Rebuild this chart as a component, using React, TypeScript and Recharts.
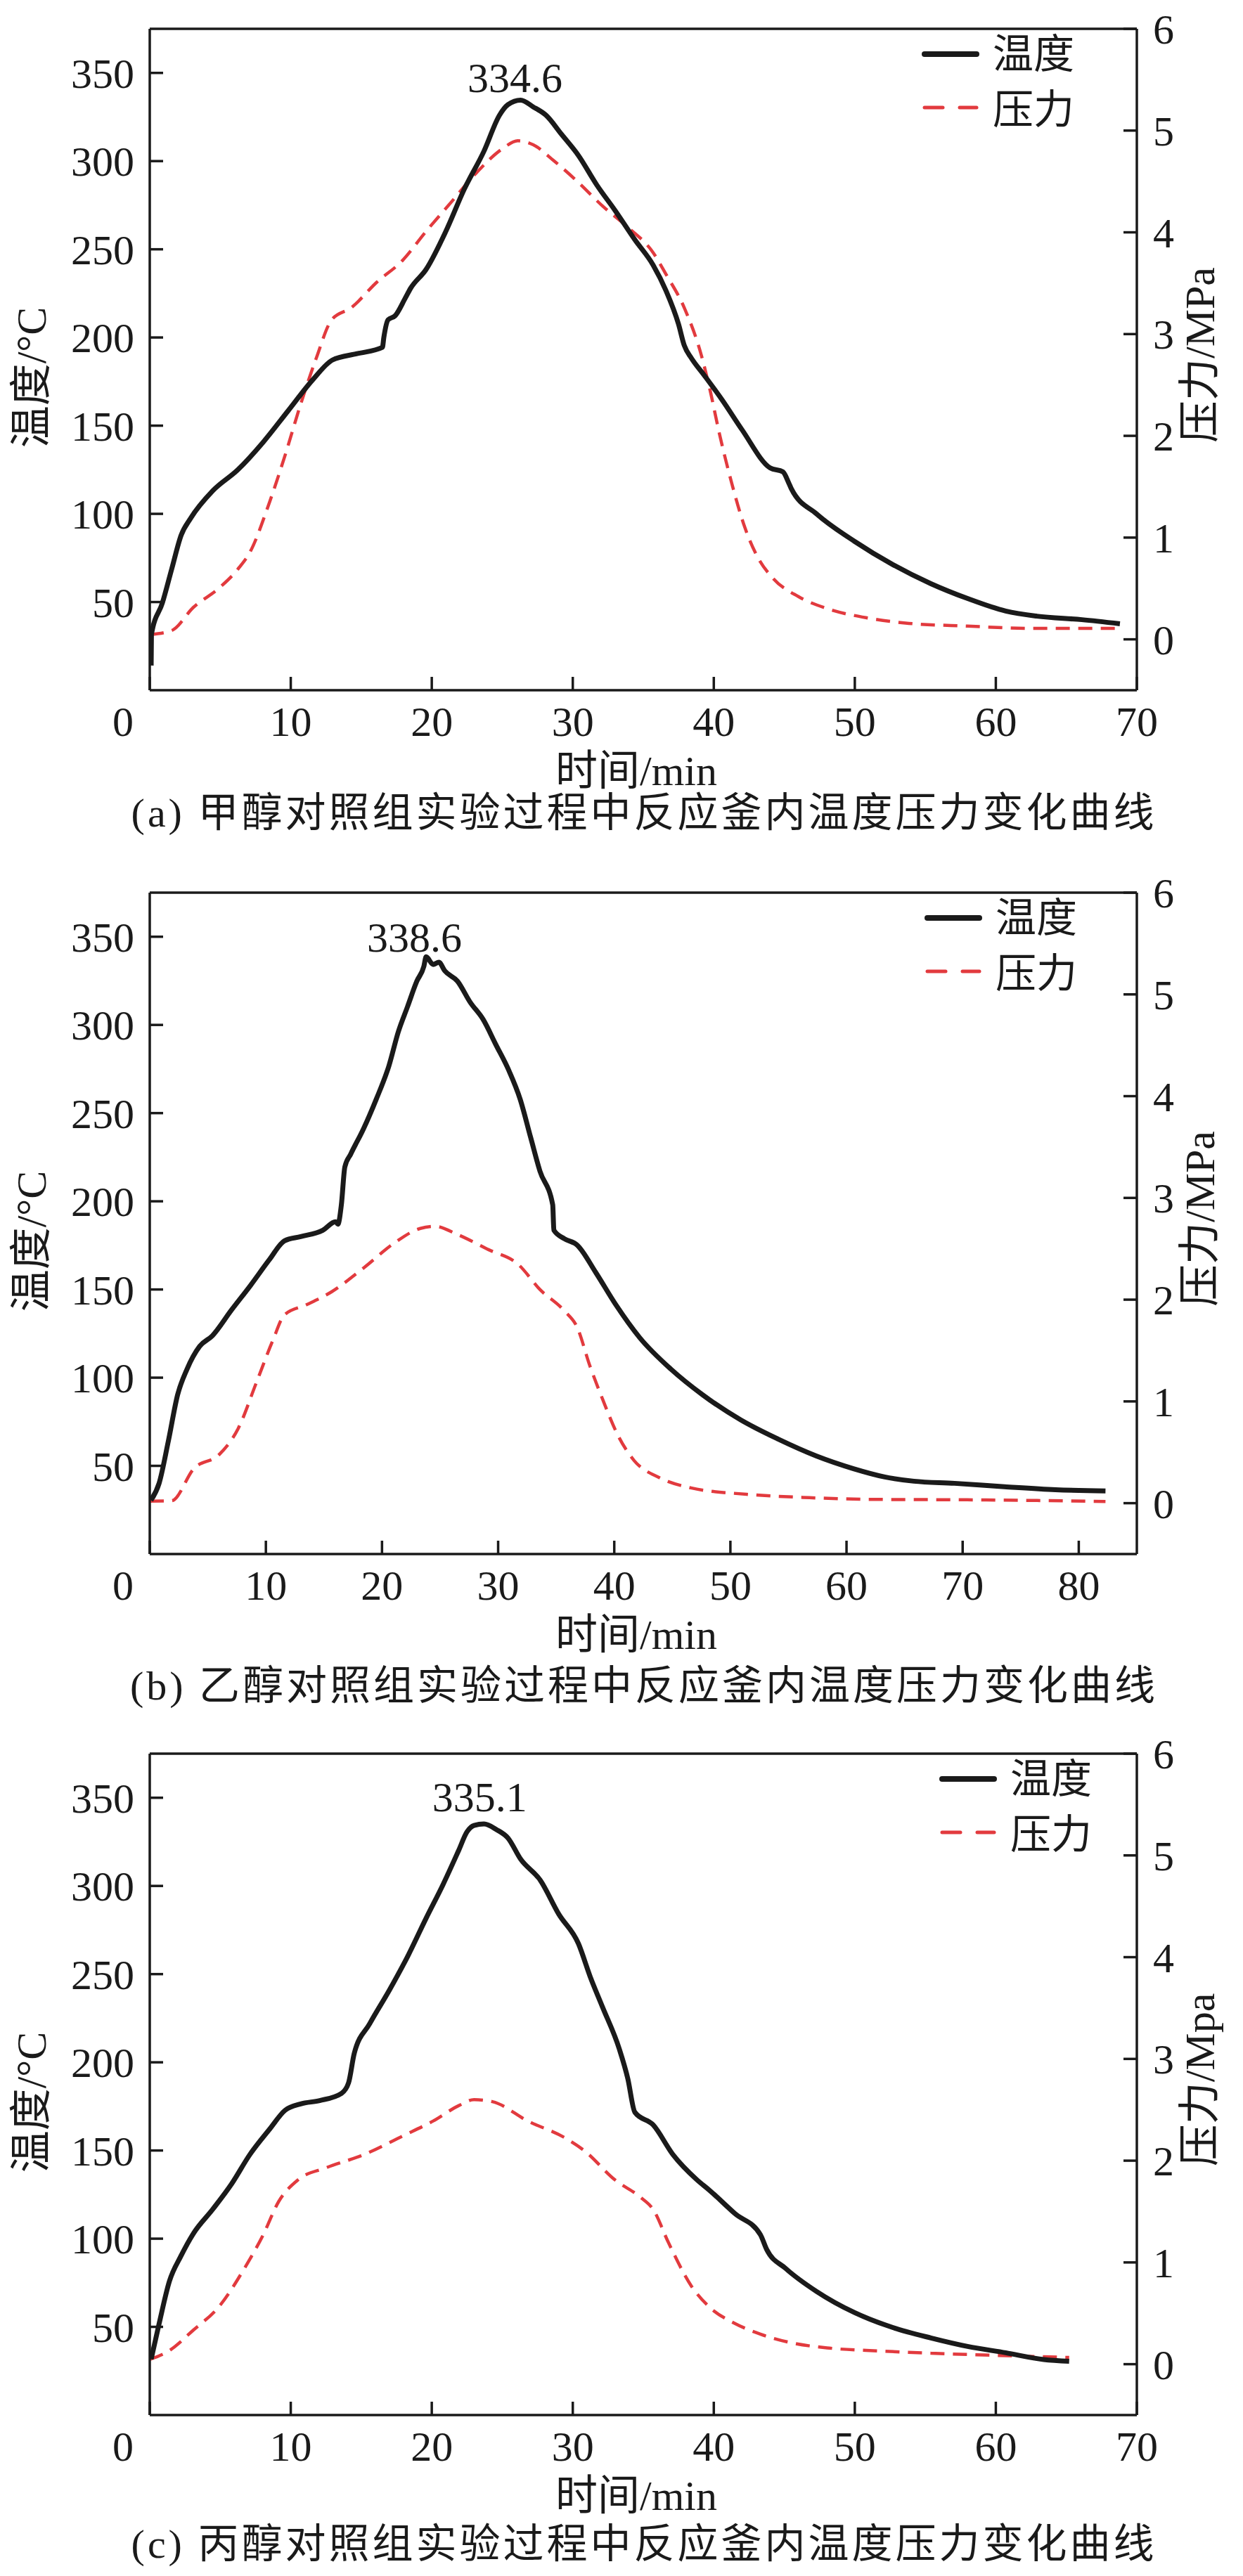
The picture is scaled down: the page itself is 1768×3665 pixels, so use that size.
import React from 'react';
import { LineChart, Line, XAxis, YAxis, ReferenceLine, ReferenceDot } from 'recharts';

// ---------------- data: (a) methanol ----------------
const aTempTime = [0.1, 0.12, 0.9, 1.56, 2.23, 2.9, 4.46, 6.25, 8.04, 9.82, 11.6, 12.95, 14.7, 16.5, 16.6, 16.9, 17.4, 18.1, 18.5, 19.6, 21, 22.3, 23.7, 24.8, 25.4, 26.3, 27.2, 28.1, 29.2, 30.4, 31.7, 33, 34.4, 35.7, 36.6, 37.5, 37.9, 38.4, 39.3, 40.6, 42, 44, 44.9, 45.3, 45.5, 47.3, 50, 52.7, 55.4, 58, 60.7, 62.9, 66.1, 68.8];
const aTempValue = [14, 31.7, 49.6, 68.8, 88, 97.5, 113, 125, 140.6, 158.5, 176.4, 187.2, 190.8, 194.4, 200, 210, 212.3, 222, 227.9, 238.6, 260.2, 284, 305.6, 326, 332, 334.6, 330.7, 326, 315.2, 303.2, 286.5, 272, 255.4, 241, 226.7, 207.5, 195.6, 188.4, 178.8, 164.5, 147.7, 126, 123.8, 117.8, 114.2, 99.9, 84.3, 71.2, 60.4, 52, 44.9, 42, 40, 37.7];
const aPressTime = [0, 1.56, 3.1, 4.9, 6.25, 7.1, 8.5, 9.6, 10.7, 11.8, 12.9, 14.3, 16.1, 17.9, 19.6, 21.4, 23.2, 25, 26.1, 27.2, 28.6, 30.4, 32.1, 33.9, 35.7, 36.6, 37.9, 39.1, 39.7, 40.4, 41.3, 42.2, 43.1, 44.2, 46, 48.2, 50.9, 53.6, 58, 62.5, 68.8];
const aPressValue = [0.046, 0.087, 0.315, 0.502, 0.69, 0.855, 1.35, 1.81, 2.31, 2.76, 3.14, 3.26, 3.51, 3.72, 4.01, 4.3, 4.59, 4.82, 4.9, 4.86, 4.71, 4.49, 4.26, 4.05, 3.8, 3.59, 3.26, 2.8, 2.47, 2.02, 1.52, 1.1, 0.81, 0.6, 0.42, 0.295, 0.21, 0.16, 0.13, 0.108, 0.108];

// ---------------- data: (b) ethanol ----------------
const bTempTime = [0.1, 0.8, 1.6, 2.4, 3.2, 4.3, 5.4, 7, 8.7, 10.3, 11.6, 13, 14.9, 16, 16.2, 16.5, 16.8, 17.3, 18.4, 19.5, 20.6, 21.4, 22.2, 23, 23.6, 23.8, 24.4, 24.9, 25.4, 26.5, 27.6, 28.7, 29.8, 30.9, 31.9, 32.8, 33.6, 34.7, 34.8, 35.7, 36.8, 38.4, 40.1, 42.2, 44.9, 47.6, 50.9, 54.1, 57.4, 60.6, 63.3, 65.8, 69.3, 73.6, 78, 82.3];
const bTempValue = [30.5, 40, 64, 90.3, 104.7, 117.8, 123.8, 138, 152.5, 166.9, 177.6, 180, 183.6, 188.4, 187, 198, 219.5, 226.7, 241, 257.8, 276.9, 296, 310.4, 324.8, 333.1, 338.6, 334.3, 335.5, 330.7, 324.8, 312.8, 303.2, 288.9, 274.5, 257.8, 236.2, 217.1, 198, 183.6, 178.8, 175.2, 159.7, 141.7, 122.6, 104.7, 90.3, 76, 65.2, 55.6, 48.4, 43.7, 41.3, 40.1, 38.2, 36.5, 35.8];
const bPressTime = [0, 1.9, 3.8, 6, 7.6, 9.2, 10.6, 11.6, 13.5, 15.7, 18.4, 21.1, 23.3, 24.6, 26.5, 29.2, 31.7, 33.6, 35.7, 36.8, 37.9, 39, 40.3, 41.7, 43.9, 46.6, 51.4, 56.8, 62.3, 70.4, 82.3];
const bPressValue = [0.02, 0.025, 0.34, 0.48, 0.73, 1.19, 1.6, 1.85, 1.95, 2.08, 2.31, 2.56, 2.7, 2.72, 2.64, 2.49, 2.35, 2.1, 1.89, 1.73, 1.35, 1.02, 0.67, 0.42, 0.25, 0.15, 0.087, 0.054, 0.037, 0.033, 0.017];

// ---------------- data: (c) propanol ----------------
const cTempTime = [0.1, 0.67, 1.4, 2.2, 3.1, 4.46, 5.8, 7.1, 8.5, 9.6, 10.7, 12.05, 13.6, 14.1, 14.5, 15.6, 17, 18.3, 19.6, 20.8, 21.9, 22.5, 23, 23.7, 24.6, 25.4, 26.3, 27.7, 29, 30.4, 31.25, 32.1, 33.3, 33.9, 34.4, 35.7, 37.1, 38.8, 39.7, 41.5, 43.3, 43.75, 45.1, 47.3, 50, 52.7, 55.4, 58, 60.7, 63.4, 65.2];
const cTempValue = [31.7, 52, 76, 90, 103, 116.6, 131, 147.7, 162.1, 172.8, 176.4, 178.3, 182.4, 188.4, 205, 221.9, 241, 260.2, 281.7, 300.8, 320, 330.7, 334.3, 335.1, 331.9, 327.2, 315.2, 303.2, 284.1, 267.3, 248.2, 231.5, 207.5, 190.8, 171.7, 164.5, 147.7, 133.4, 127.4, 114.2, 102.3, 93.9, 83.1, 70, 58, 49.6, 43.7, 38.9, 35.3, 31.5, 30.5];
const cPressTime = [0, 1.34, 3.1, 4.9, 6.7, 8.04, 9.15, 10.5, 12.5, 15.2, 17.9, 20.1, 21.9, 23, 24.3, 26.8, 29.5, 30.8, 33, 34.8, 35.7, 36.8, 38.4, 39.7, 41.5, 43.3, 45.5, 48.2, 51.8, 55.4, 59.8, 65.2];
const cPressValue = [0.046, 0.129, 0.336, 0.564, 0.938, 1.27, 1.6, 1.81, 1.93, 2.06, 2.24, 2.39, 2.54, 2.6, 2.58, 2.39, 2.22, 2.1, 1.81, 1.64, 1.52, 1.19, 0.77, 0.56, 0.4, 0.295, 0.21, 0.158, 0.129, 0.108, 0.087, 0.066];

// ---------------- ticks, labels ----------------
const tempTicks = [50, 100, 150, 200, 250, 300, 350];
const pressTicks = [0, 1, 2, 3, 4, 5, 6];
const xTicks70 = [0, 10, 20, 30, 40, 50, 60, 70];
const xTicks80 = [0, 10, 20, 30, 40, 50, 60, 70, 80];
const peakTexts = ['334.6', '338.6', '335.1'];
const peakValues = [334.6, 338.6, 335.1];
const peakLabelTimes = [25.9, 22.8, 23.4];
const captions = [
  '(a) 甲醇对照组实验过程中反应釜内温度压力变化曲线',
  '(b) 乙醇对照组实验过程中反应釜内温度压力变化曲线',
  '(c) 丙醇对照组实验过程中反应釜内温度压力变化曲线',
];
const rightTitles = ['压力/MPa', '压力/MPa', '压力/Mpa'];
const legendNames = ['温度', '压力'];

// ---------------- styles ----------------
const NUM_FONT = '"Liberation Serif", "Times New Roman", serif';
const MIX_FONT = '"Liberation Serif", "Noto Sans CJK SC", serif';
const INK = '#1a1a1a';
const RED = '#e23a3e';
const AXIS_W = 3.5;

const XTick = (props: any) => {
  const { x, y, payload } = props;
  const dx = payload.value === 0 ? -38 : 0;
  return (
    <g>
      <line x1={x} y1={y} x2={x} y2={y - 19} stroke={INK} strokeWidth={AXIS_W} />
      <text x={x + dx} y={y + 65} textAnchor="middle" fontFamily={NUM_FONT} fontSize={60} fill={INK}>
        {payload.value}
      </text>
    </g>
  );
};

const LeftTick = (props: any) => {
  const { x, y, payload } = props;
  return (
    <g>
      <line x1={x} y1={y} x2={x + 19} y2={y} stroke={INK} strokeWidth={AXIS_W} />
      <text x={x - 22} y={y + 21} textAnchor="end" fontFamily={NUM_FONT} fontSize={60} fill={INK}>
        {payload.value}
      </text>
    </g>
  );
};

const RightTick = (props: any) => {
  const { x, y, payload } = props;
  return (
    <g>
      <line x1={x} y1={y} x2={x - 19} y2={y} stroke={INK} strokeWidth={AXIS_W} />
      <text x={x + 23} y={y + 21} textAnchor="start" fontFamily={NUM_FONT} fontSize={60} fill={INK}>
        {payload.value}
      </text>
    </g>
  );
};

type PanelProps = {
  top: number;
  height: number;
  xMax: number;
  xTicks: number[];
  tempTime: number[];
  tempValue: number[];
  presTime: number[];
  presValue: number[];
  idx: number;
  peakOffset: number;
  legendX: number;
  captionY: number;
};

const abs = (cx: number, cy: number, extra: React.CSSProperties = {}, rot = ''): React.CSSProperties => ({
  position: 'absolute',
  left: cx,
  top: cy,
  transform: `translate(-50%, -50%)${rot}`,
  whiteSpace: 'nowrap',
  lineHeight: 1,
  color: INK,
  fontFamily: MIX_FONT,
  ...extra,
});

function Panel(p: PanelProps) {
  const temp = p.tempTime.map((t, i) => ({ t, v: p.tempValue[i] }));
  const pres = p.presTime.map((t, i) => ({ t, v: p.presValue[i] }));
  const H = p.height;
  const xAxisH = 60;
  const plotBottom = 982;
  return (
    <div style={{ position: 'absolute', left: 0, top: p.top, width: 1768, height: H }}>
      <LineChart
        width={1768}
        height={H}
        margin={{ top: 41, right: 0, left: 0, bottom: H - plotBottom - xAxisH }}
      >
        <XAxis
          dataKey="t"
          type="number"
          domain={[0, p.xMax]}
          ticks={p.xTicks}
          interval={0}
          height={xAxisH}
          tickSize={0}
          tickMargin={0}
          tickLine={false}
          axisLine={{ stroke: INK, strokeWidth: AXIS_W }}
          tick={<XTick />}
          allowDataOverflow
        />
        <YAxis
          yAxisId="left"
          orientation="left"
          type="number"
          domain={[0, 375]}
          ticks={tempTicks}
          interval={0}
          width={213}
          tickSize={0}
          tickMargin={0}
          tickLine={false}
          axisLine={{ stroke: INK, strokeWidth: AXIS_W }}
          tick={<LeftTick />}
          allowDataOverflow
        />
        <YAxis
          yAxisId="right"
          orientation="right"
          type="number"
          domain={[-0.5, 6]}
          ticks={pressTicks}
          interval={0}
          width={151}
          tickSize={0}
          tickMargin={0}
          tickLine={false}
          axisLine={{ stroke: INK, strokeWidth: AXIS_W }}
          tick={<RightTick />}
          allowDataOverflow
        />
        <ReferenceLine yAxisId="left" y={375} stroke={INK} strokeWidth={AXIS_W} />
        <Line
          yAxisId="right"
          data={pres}
          dataKey="v"
          type="monotone"
          stroke={RED}
          strokeWidth={4.5}
          strokeDasharray="20 12"
          dot={false}
          activeDot={false}
          isAnimationActive={false}
        />
        <Line
          yAxisId="left"
          data={temp}
          dataKey="v"
          type="monotone"
          stroke={INK}
          strokeWidth={7}
          dot={false}
          activeDot={false}
          isAnimationActive={false}
        />
        <ReferenceDot
          yAxisId="left"
          x={peakLabelTimes[p.idx]}
          y={peakValues[p.idx]}
          r={0}
          fill="none"
          stroke="none"
          label={{
            value: peakTexts[p.idx],
            position: 'top',
            offset: p.peakOffset,
            fontFamily: NUM_FONT,
            fontSize: 60,
            fill: INK,
          }}
        />
      </LineChart>

      {/* legend */}
      <svg
        style={{ position: 'absolute', left: p.legendX, top: 50, overflow: 'visible' }}
        width={80}
        height={120}
      >
        <line x1={2} y1={27} x2={76} y2={27} stroke={INK} strokeWidth={8} strokeLinecap="round" />
        <line x1={2} y1={103} x2={28} y2={103} stroke={RED} strokeWidth={5} strokeLinecap="round" />
        <line x1={52} y1={103} x2={76} y2={103} stroke={RED} strokeWidth={5} strokeLinecap="round" />
      </svg>
      <div style={abs(p.legendX + 98 + 59, 78, { fontSize: 58 })}>{legendNames[0]}</div>
      <div style={abs(p.legendX + 98 + 59, 157, { fontSize: 58 })}>{legendNames[1]}</div>

      {/* axis titles */}
      <div style={abs(45, 537, { fontSize: 60 }, ' rotate(-90deg)')}>温度/°C</div>
      <div style={abs(1707, 505, { fontSize: 60 }, ' rotate(-90deg)')}>{rightTitles[p.idx]}</div>
      <div style={abs(905, 1097, { fontSize: 60 })}>时间/min</div>

      {/* caption */}
      <div style={abs(916, p.captionY, { fontSize: 58, letterSpacing: 4 })}>{captions[p.idx]}</div>
    </div>
  );
}

export default function App() {
  return (
    <div style={{ position: 'absolute', left: 0, top: 0, width: 1768, height: 3665, background: '#fff', overflow: 'hidden' }}>
      <Panel
        top={0}
        height={1229}
        xMax={70}
        xTicks={xTicks70}
        tempTime={aTempTime}
        tempValue={aTempValue}
        presTime={aPressTime}
        presValue={aPressValue}
        idx={0}
        peakOffset={11}
        legendX={1313}
        captionY={1157}
      />
      <Panel
        top={1229}
        height={1225}
        xMax={85}
        xTicks={xTicks80}
        tempTime={bTempTime}
        tempValue={bTempValue}
        presTime={bPressTime}
        presValue={bPressValue}
        idx={1}
        peakOffset={7}
        legendX={1317}
        captionY={1170}
      />
      <Panel
        top={2454}
        height={1211}
        xMax={70}
        xTicks={xTicks70}
        tempTime={cTempTime}
        tempValue={cTempValue}
        presTime={cPressTime}
        presValue={cPressValue}
        idx={2}
        peakOffset={18}
        legendX={1338}
        captionY={1166}
      />
    </div>
  );
}
